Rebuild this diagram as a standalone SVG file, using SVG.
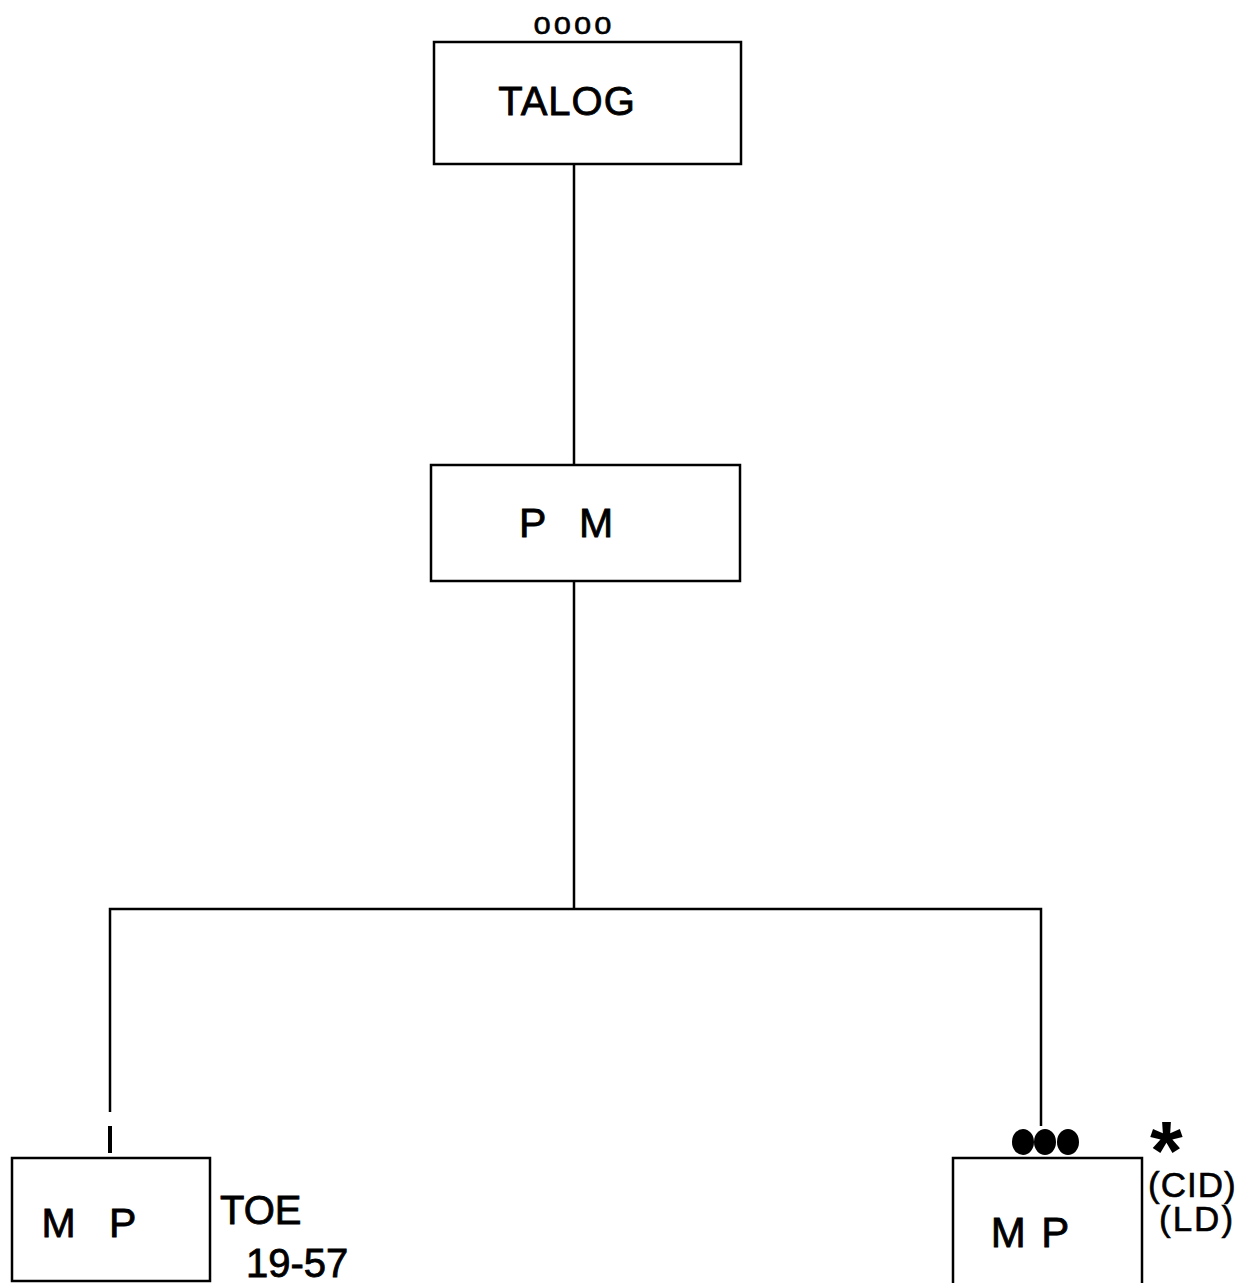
<svg xmlns="http://www.w3.org/2000/svg" width="1252" height="1283" viewBox="0 0 1252 1283">
<style>
.box{fill:#fff;stroke:#000;stroke-width:2.5}
.ln{fill:none;stroke:#000;stroke-width:2.5}
.t{font-family:"Liberation Sans",Arial,sans-serif;fill:#000}
</style>
<rect width="1252" height="1283" fill="#fff"/>
<g id="connectors">
<line class="ln" x1="574" y1="164" x2="574" y2="465"/>
<line class="ln" x1="574" y1="581" x2="574" y2="909"/>
<polyline class="ln" points="110,1112 110,909 1041,909 1041,1126"/>
<line x1="110" y1="1126" x2="110" y2="1153" stroke="#000" stroke-width="4"/>
</g>
<g id="talog">
<text class="t" x="574" y="34" font-size="31" text-anchor="middle" letter-spacing="3" stroke="#000" stroke-width="0.6">oooo</text>
<rect class="box" x="434" y="42" width="307" height="122"/>
<text class="t" x="567" y="115" font-size="40" text-anchor="middle" letter-spacing="1" stroke="#000" stroke-width="0.8">TALOG</text>
</g>
<g id="pm">
<rect class="box" x="431" y="465" width="309" height="116"/>
<text class="t" x="566" y="537" font-size="41" text-anchor="middle" word-spacing="22" stroke="#000" stroke-width="0.8">P M</text>
</g>
<g id="mp-left">
<rect class="box" x="12" y="1158" width="198" height="123"/>
<text class="t" x="89" y="1237" font-size="41" text-anchor="middle" word-spacing="22" stroke="#000" stroke-width="0.8">M P</text>
<text class="t" font-size="40" stroke="#000" stroke-width="0.8"><tspan x="220" y="1224">TOE</tspan><tspan x="246" y="1277">19-57</tspan></text>
</g>
<g id="mp-right">
<ellipse cx="1023" cy="1142" rx="11" ry="13"/>
<ellipse cx="1045" cy="1142" rx="11" ry="13"/>
<ellipse cx="1068" cy="1142" rx="11" ry="13"/>
<rect class="box" x="953" y="1158" width="189" height="130"/>
<text class="t" x="1030" y="1247" font-size="42" text-anchor="middle" word-spacing="4" stroke="#000" stroke-width="0.8">M P</text>
<text class="t" font-size="35" stroke="#000" stroke-width="0.6"><tspan x="1150" y="1180" font-size="84" font-weight="bold" stroke-width="0">*</tspan><tspan x="1148" y="1197" letter-spacing="1">(CID)</tspan><tspan x="1159" y="1231" letter-spacing="2">(LD)</tspan></text>
</g>
</svg>
